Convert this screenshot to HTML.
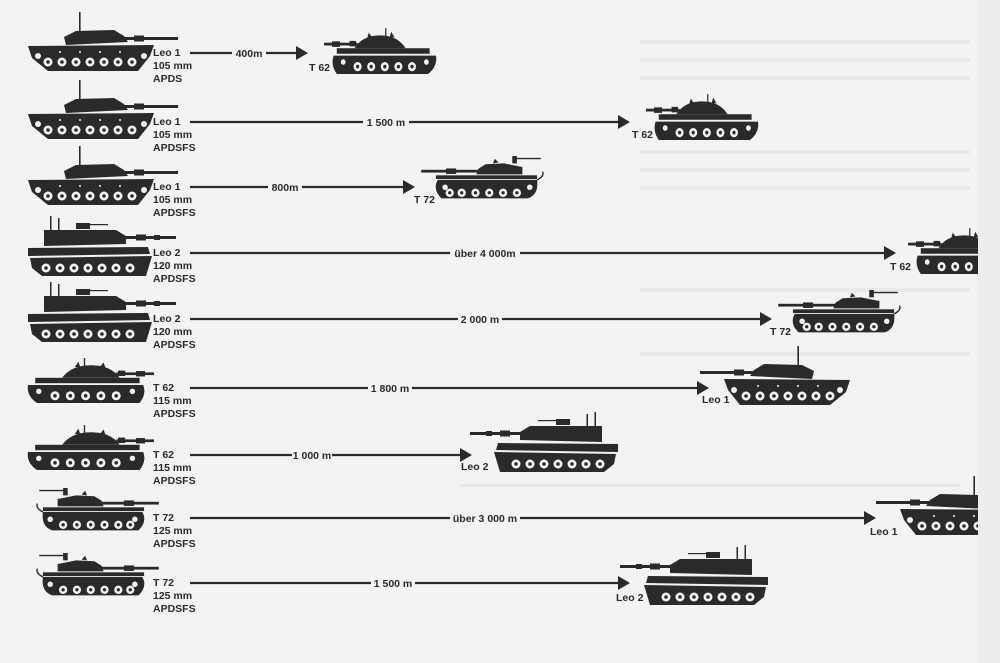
<!DOCTYPE html>
<html><head><meta charset="utf-8"><style>
html,body{margin:0;padding:0;background:#f3f3f1;}
svg{display:block}
text{font-family:"Liberation Sans",sans-serif;font-weight:bold;fill:#2a2a2a;}
</style></head><body>
<svg width="1000" height="663" viewBox="0 0 1000 663" xmlns="http://www.w3.org/2000/svg">
<defs>
<g id="wh7" fill="#f3f3f1">
 <circle cx="30" cy="50" r="4.5"/><circle cx="44" cy="50" r="4.5"/><circle cx="58" cy="50" r="4.5"/><circle cx="72" cy="50" r="4.5"/><circle cx="86" cy="50" r="4.5"/><circle cx="100" cy="50" r="4.5"/><circle cx="114" cy="50" r="4.5"/>
 <g fill="#2a2a2a"><circle cx="30" cy="50" r="1.8"/><circle cx="44" cy="50" r="1.8"/><circle cx="58" cy="50" r="1.8"/><circle cx="72" cy="50" r="1.8"/><circle cx="86" cy="50" r="1.8"/><circle cx="100" cy="50" r="1.8"/><circle cx="114" cy="50" r="1.8"/></g>
</g>
<g id="leo1" fill="#2a2a2a">
 <rect x="51" y="0" width="1.6" height="24"/>
 <polygon points="36,25 48,19 86,18 96,24 100,30 38,33"/>
 <rect x="96" y="25" width="54" height="3"/><rect x="106" y="23.5" width="10" height="6"/>
 <polygon points="0,34 126,33 122,44 110,59 20,59 4,46"/>
 <g transform="translate(-10,0)"><use href="#wh7"/></g>
 <circle cx="10" cy="44" r="3" fill="#f3f3f1"/><circle cx="116" cy="44" r="3" fill="#f3f3f1"/>
 <g fill="#f3f3f1"><circle cx="32" cy="40" r="1"/><circle cx="52" cy="40" r="1"/><circle cx="72" cy="40" r="1"/><circle cx="92" cy="40" r="1"/></g>
</g>
<g id="leo2" fill="#2a2a2a">
 <rect x="22" y="0" width="1.5" height="18"/><rect x="30" y="2" width="1.5" height="16"/>
 <rect x="48" y="7" width="14" height="6"/><rect x="58" y="8" width="22" height="1.2"/>
 <polygon points="16,14 88,14 98,20 98,28 16,30"/>
 <rect x="96" y="20" width="52" height="3"/><rect x="108" y="18.5" width="10" height="6"/><rect x="126" y="19" width="6" height="5"/>
 <polygon points="0,32 120,31 122,38 0,40"/>
 <polygon points="2,42 124,40 118,60 14,60 4,52"/>
 <g transform="translate(-12,2)"><use href="#wh7"/></g>
</g>
<g id="t62" fill="#2a2a2a">
 <rect x="62" y="0" width="1.5" height="14"/>
 <path d="M38,22 Q48,8 70,8 Q92,8 102,22 Z"/>
 <polygon points="52,10 56,4 58,10"/><polygon points="80,10 84,5 86,11"/>
 <rect x="98" y="16" width="42" height="3"/><rect x="120" y="14.5" width="10" height="6"/><rect x="100" y="14" width="8" height="6"/>
 <rect x="8" y="22" width="116" height="6"/>
 <path d="M0,30 L128,30 Q132,40 124,50 L10,50 Q-2,42 0,30 Z"/>
 <g fill="#f3f3f1"><circle cx="12" cy="37" r="3"/><circle cx="116" cy="37" r="3"/>
  <circle cx="30" cy="42" r="5"/><circle cx="47" cy="42" r="5"/><circle cx="64" cy="42" r="5"/><circle cx="81" cy="42" r="5"/><circle cx="98" cy="42" r="5"/></g>
 <g><circle cx="30" cy="42" r="2"/><circle cx="47" cy="42" r="2"/><circle cx="64" cy="42" r="2"/><circle cx="81" cy="42" r="2"/><circle cx="98" cy="42" r="2"/></g>
</g>
<g id="t72" fill="#2a2a2a">
 <rect x="10" y="2" width="30" height="1.5"/><rect x="36" y="0" width="5" height="8"/>
 <polygon points="30,12 40,10 50,8 70,9 78,14 80,20 30,20"/><polygon points="56,7 60,3 62,8"/>
 <rect x="78" y="15" width="62" height="3"/><rect x="102" y="13.5" width="11" height="6"/>
 <rect x="14" y="21" width="110" height="4"/>
 <path d="M14,26 L122,26 Q128,36 118,46 L24,46 Q12,42 14,26 Z"/>
 <path d="M14,26 Q6,22 8,17" stroke="#2a2a2a" stroke-width="1.5" fill="none"/>
 <g fill="#f3f3f1"><circle cx="22" cy="34" r="3"/><circle cx="114" cy="34" r="3"/>
  <circle cx="36" cy="40" r="4.5"/><circle cx="51" cy="40" r="4.5"/><circle cx="66" cy="40" r="4.5"/><circle cx="81" cy="40" r="4.5"/><circle cx="96" cy="40" r="4.5"/><circle cx="109" cy="40" r="4.5"/></g>
 <g><circle cx="36" cy="40" r="1.8"/><circle cx="51" cy="40" r="1.8"/><circle cx="66" cy="40" r="1.8"/><circle cx="81" cy="40" r="1.8"/><circle cx="96" cy="40" r="1.8"/><circle cx="109" cy="40" r="1.8"/></g>
</g>
<clipPath id="pg"><rect x="0" y="0" width="978" height="663"/></clipPath>
</defs>

<g fill="#e9e9e7">
 <rect x="640" y="40" width="330" height="4"/><rect x="640" y="58" width="330" height="4"/><rect x="640" y="76" width="330" height="4"/>
 <rect x="640" y="150" width="330" height="4"/><rect x="640" y="168" width="330" height="4"/><rect x="640" y="186" width="330" height="4"/>
 <rect x="640" y="288" width="330" height="4"/><rect x="640" y="352" width="330" height="4"/>
 <rect x="460" y="484" width="500" height="3"/>
</g>
<rect x="978" y="0" width="22" height="663" fill="#ededeb"/>

<g clip-path="url(#pg)">
<use href="#leo1" x="28" y="12"/>
<use href="#leo1" x="28" y="80"/>
<use href="#leo1" x="28" y="146"/>
<use href="#leo2" x="28" y="216"/>
<use href="#leo2" x="28" y="282"/>
<g transform="translate(28,358) scale(0.9)"><use href="#t62"/></g>
<g transform="translate(28,425) scale(0.9)"><use href="#t62"/></g>
<g transform="translate(30,488) scale(0.92)"><use href="#t72"/></g>
<g transform="translate(30,553) scale(0.92)"><use href="#t72"/></g>

<g transform="translate(436,28) scale(-0.8,0.92)"><use href="#t62"/></g>
<g transform="translate(758,94) scale(-0.8,0.92)"><use href="#t62"/></g>
<g transform="translate(550,156) scale(-0.92,0.92)"><use href="#t72"/></g>
<g transform="translate(1020,228) scale(-0.8,0.92)"><use href="#t62"/></g>
<g transform="translate(907,290) scale(-0.92,0.92)"><use href="#t72"/></g>
<g transform="translate(850,346) scale(-1,1)"><use href="#leo1"/></g>
<g transform="translate(618,412) scale(-1,1)"><use href="#leo2"/></g>
<g transform="translate(1026,476) scale(-1,1)"><use href="#leo1"/></g>
<g transform="translate(768,545) scale(-1,1)"><use href="#leo2"/></g>
</g>

<g stroke="#2a2a2a" stroke-width="2.2">
 <line x1="190" y1="53" x2="298" y2="53"/>
 <line x1="190" y1="122" x2="620" y2="122"/>
 <line x1="190" y1="187" x2="405" y2="187"/>
 <line x1="190" y1="253" x2="886" y2="253"/>
 <line x1="190" y1="319" x2="762" y2="319"/>
 <line x1="190" y1="388" x2="700" y2="388"/>
 <line x1="190" y1="455" x2="462" y2="455"/>
 <line x1="190" y1="518" x2="866" y2="518"/>
 <line x1="190" y1="583" x2="620" y2="583"/>
</g>
<g fill="#2a2a2a">
 <polygon points="296,46 308,53 296,60"/>
 <polygon points="618,115 630,122 618,129"/>
 <polygon points="403,180 415,187 403,194"/>
 <polygon points="884,246 896,253 884,260"/>
 <polygon points="760,312 772,319 760,326"/>
 <polygon points="697,381 709,388 697,395"/>
 <polygon points="460,448 472,455 460,462"/>
 <polygon points="864,511 876,518 864,525"/>
 <polygon points="618,576 630,583 618,590"/>
</g>
<g font-size="10.5" text-anchor="middle">
 <rect x="232" y="46" width="34" height="14" fill="#f3f3f1"/><text x="249" y="57">400m</text>
 <rect x="363" y="115" width="46" height="14" fill="#f3f3f1"/><text x="386" y="126">1 500 m</text>
 <rect x="268" y="180" width="34" height="14" fill="#f3f3f1"/><text x="285" y="191">800m</text>
 <rect x="450" y="246" width="70" height="14" fill="#f3f3f1"/><text x="485" y="257">über 4 000m</text>
 <rect x="458" y="312" width="44" height="14" fill="#f3f3f1"/><text x="480" y="323">2 000 m</text>
 <rect x="368" y="381" width="44" height="14" fill="#f3f3f1"/><text x="390" y="392">1 800 m</text>
 <rect x="292" y="448" width="40" height="14" fill="#f3f3f1"/><text x="312" y="459">1 000 m</text>
 <rect x="450" y="511" width="70" height="14" fill="#f3f3f1"/><text x="485" y="522">über 3 000 m</text>
 <rect x="371" y="576" width="44" height="14" fill="#f3f3f1"/><text x="393" y="587">1 500 m</text>
</g>
<g font-size="10.5">
 <text x="153" y="56">Leo 1</text><text x="153" y="69">105 mm</text><text x="153" y="82">APDS</text>
 <text x="153" y="125">Leo 1</text><text x="153" y="138">105 mm</text><text x="153" y="151">APDSFS</text>
 <text x="153" y="190">Leo 1</text><text x="153" y="203">105 mm</text><text x="153" y="216">APDSFS</text>
 <text x="153" y="256">Leo 2</text><text x="153" y="269">120 mm</text><text x="153" y="282">APDSFS</text>
 <text x="153" y="322">Leo 2</text><text x="153" y="335">120 mm</text><text x="153" y="348">APDSFS</text>
 <text x="153" y="391">T 62</text><text x="153" y="404">115 mm</text><text x="153" y="417">APDSFS</text>
 <text x="153" y="458">T 62</text><text x="153" y="471">115 mm</text><text x="153" y="484">APDSFS</text>
 <text x="153" y="521">T 72</text><text x="153" y="534">125 mm</text><text x="153" y="547">APDSFS</text>
 <text x="153" y="586">T 72</text><text x="153" y="599">125 mm</text><text x="153" y="612">APDSFS</text>
</g>
<g font-size="10.5">
 <text x="309" y="71">T 62</text>
 <text x="632" y="138">T 62</text>
 <text x="414" y="203">T 72</text>
 <text x="890" y="270">T 62</text>
 <text x="770" y="335">T 72</text>
 <text x="702" y="403">Leo 1</text>
 <text x="461" y="470">Leo 2</text>
 <text x="870" y="535">Leo 1</text>
 <text x="616" y="601">Leo 2</text>
</g>
</svg>
</body></html>
